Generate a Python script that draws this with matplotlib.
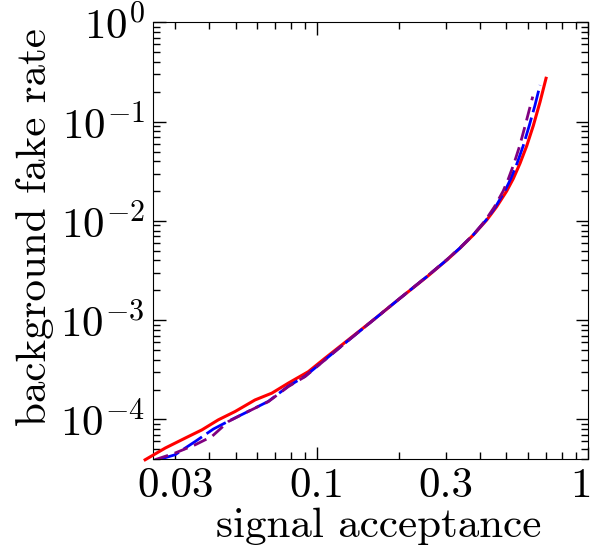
import numpy as np
import matplotlib
matplotlib.use("Agg")
import matplotlib.pyplot as plt
import matplotlib.transforms as mtransforms
from matplotlib.ticker import LogLocator, FuncFormatter, NullFormatter

plt.rcParams['font.family'] = 'cmr10'
plt.rcParams['mathtext.fontset'] = 'cm'
plt.rcParams['axes.unicode_minus'] = False
plt.rcParams['axes.formatter.use_mathtext'] = True

# Courbes (acceptance signal, taux de faux bruit de fond)
red_x = [0.0232, 0.0275, 0.0326, 0.0376, 0.0432, 0.0498, 0.0590, 0.0681, 0.0783, 0.0929,
         0.107, 0.13, 0.161, 0.20, 0.255, 0.302, 0.337, 0.378, 0.423, 0.460, 0.501,
         0.530, 0.561, 0.594, 0.628, 0.665, 0.700]
red_y = [3.92e-5, 5.14e-5, 6.48e-5, 7.85e-5, 9.9e-5, 1.20e-4, 1.57e-4, 1.84e-4, 2.32e-4, 3.03e-4,
         4.14e-4, 6.3e-4, 1.0e-3, 1.62e-3, 2.75e-3, 4.06e-3, 5.32e-3, 7.26e-3, 1.023e-2, 1.39e-2, 2.0e-2,
         2.67e-2, 3.80e-2, 5.71e-2, 9.10e-2, 0.158, 0.274]

blue_x = [0.0259, 0.0299, 0.0355, 0.0414, 0.0471, 0.0542, 0.0661, 0.0783, 0.0903,
          0.107, 0.13, 0.161, 0.20, 0.255, 0.302, 0.337, 0.378, 0.421, 0.4558, 0.493,
          0.519, 0.547, 0.5765, 0.6067, 0.637, 0.665]
blue_y = [3.92e-5, 4.4e-5, 5.99e-5, 7.99e-5, 9.6e-5, 1.16e-4, 1.52e-4, 2.16e-4, 2.72e-4,
          4.0e-4, 6.2e-4, 1.0e-3, 1.62e-3, 2.77e-3, 4.08e-3, 5.35e-3, 7.3e-3, 1.023e-2, 1.39e-2, 2.0e-2,
          2.67e-2, 3.80e-2, 5.71e-2, 9.10e-2, 0.146, 0.234]

purple_x = [0.0252, 0.0299, 0.0355, 0.0409, 0.0471, 0.0542, 0.0661, 0.0783, 0.0903,
            0.107, 0.13, 0.161, 0.20, 0.255, 0.302, 0.337, 0.378, 0.419, 0.4516, 0.4862,
            0.5085, 0.5333, 0.5594, 0.586, 0.625]
purple_y = [3.92e-5, 4.58e-5, 5.55e-5, 6.73e-5, 9.53e-5, 1.16e-4, 1.51e-4, 2.14e-4, 2.70e-4,
            3.98e-4, 6.2e-4, 1.0e-3, 1.62e-3, 2.78e-3, 4.1e-3, 5.38e-3, 7.3e-3, 1.023e-2, 1.39e-2, 2.0e-2,
            2.67e-2, 3.80e-2, 5.71e-2, 9.10e-2, 0.179]

xtick_vals = [0.03, 0.1, 0.3, 1]
xtick_labels = ['0.03', '0.1', '0.3', '1']

fig = plt.figure(figsize=(5.93, 5.48), dpi=100)
ax = fig.add_axes([0.258, 0.162, 0.7336, 0.797])

ax.plot(red_x, red_y, color='red', lw=2.2, clip_on=False, zorder=3)
ax.plot(blue_x, blue_y, color='blue', lw=2.0, dashes=(8, 2), zorder=4)
ax.plot(purple_x, purple_y, color='purple', lw=2.0, dashes=(5, 2.5), zorder=5)

ax.set_xscale('log')
ax.set_yscale('log')
ax.set_xlim(0.0248, 1)
ax.set_ylim(3.97e-5, 1)

lab = dict(zip(xtick_vals, xtick_labels))
def fmt(v, pos):
    for k, s in lab.items():
        if abs(v - k) / k < 1e-6:
            return s
    return ''
ax.xaxis.set_major_locator(LogLocator(base=10))
ax.xaxis.set_minor_locator(LogLocator(base=10, subs=np.arange(2, 10)))
ax.xaxis.set_major_formatter(FuncFormatter(fmt))
ax.xaxis.set_minor_formatter(FuncFormatter(fmt))
ax.yaxis.set_minor_locator(LogLocator(base=10, subs=np.arange(2, 10)))
ax.yaxis.set_minor_formatter(NullFormatter())

ax.tick_params(which='both', direction='in', top=True, right=True, labelsize=31, pad=6)
ax.tick_params(which='major', length=9, width=1)
ax.tick_params(which='minor', length=5, width=1)

ax.set_xlabel('signal acceptance', fontsize=31, labelpad=2, x=0.518)
ax.set_ylabel('background fake rate', fontsize=31, labelpad=4, y=0.532)

# le "1" du bord droit est aligné à droite pour rester dans l'image
fig.canvas.draw()
for t in ax.xaxis.get_major_ticks():
    if abs(t.get_loc() - 1) < 1e-9:
        t.label1.set_horizontalalignment('right')
        t.label1.set_transform(t.label1.get_transform() +
                               mtransforms.ScaledTranslation(4 / 100, 0, fig.dpi_scale_trans))

fig.savefig('out.png', dpi=100)
